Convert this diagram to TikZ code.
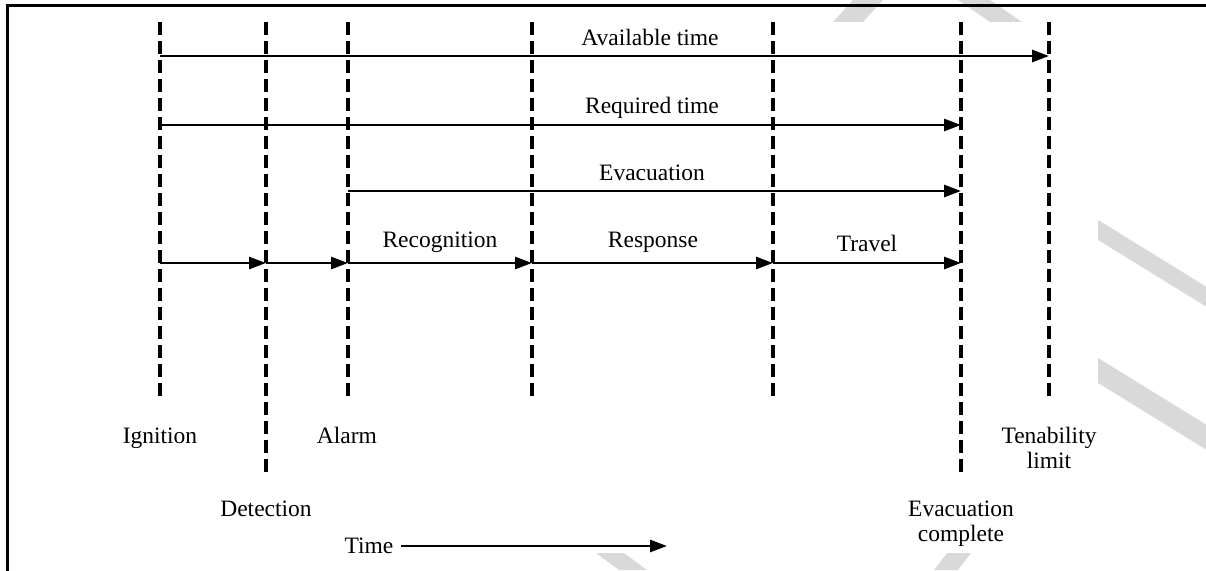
\documentclass[tikz,border=0pt]{standalone}
\usepackage{fontspec}
\setmainfont{Liberation Serif}
\usetikzlibrary{arrows.meta}
\definecolor{wmark}{HTML}{D9D9D9}
\tikzset{
  guide/.style={line width=3.2pt, dash pattern=on 13pt off 6pt},
  span/.style={line width=2.8pt, -{Triangle[length=17pt,width=12pt]}},
  lbl/.style={inner sep=0pt, anchor=base, font=\fontsize{23.5}{25}\selectfont, align=center},
  stripe/.style={fill=wmark, draw=none},
  frame/.style={line width=3pt}
}
\begin{document}
\begin{tikzpicture}[x=1pt,y=-1pt]
\useasboundingbox (0,0) rectangle (1206,570);
% watermark stripes (behind the figure)
\fill[stripe] (833,22) -- (863,22) -- (883,0) -- (853,0) -- cycle;
\fill[stripe] (958,0) -- (990,0) -- (1022,22) -- (990,22) -- cycle;
\fill[stripe] (1090,215) -- (1210,289) -- (1210,309) -- (1090,235) -- cycle;
\fill[stripe] (1090,353) -- (1210,427) -- (1210,452) -- (1090,378) -- cycle;
\fill[stripe] (596,553) -- (624,553) -- (647,570) -- (619,570) -- cycle;
\fill[stripe] (947,553) -- (971,553) -- (958,570) -- (934,570) -- cycle;
% figure area
\fill[white] (122,22) rectangle (1098,553);
% frame
\draw[frame] (7,571) -- (7,5) -- (1207,5);
% guide lines
\coordinate (ig-t) at (160,22);  \coordinate (ig-b) at (160,400);
\coordinate (de-t) at (266,22);  \coordinate (de-b) at (266,475);
\coordinate (al-t) at (348,22);  \coordinate (al-b) at (348,400);
\coordinate (rc-t) at (532,22);  \coordinate (rc-b) at (532,400);
\coordinate (rs-t) at (773,22);  \coordinate (rs-b) at (773,400);
\coordinate (ev-t) at (961,22);  \coordinate (ev-b) at (961,475);
\coordinate (tl-t) at (1049,22); \coordinate (tl-b) at (1049,400);
\foreach \g in {ig,de,al,rc,rs,ev,tl} \draw[guide] (\g-t) -- (\g-b);
% rows
\coordinate (rowA) at (0,56);
\coordinate (rowB) at (0,125);
\coordinate (rowC) at (0,191);
\coordinate (rowD) at (0,263);
\draw[span] (ig-t |- rowA) -- (tl-t |- rowA);
\draw[span] (ig-t |- rowB) -- (ev-t |- rowB);
\draw[span] (al-t |- rowC) -- (ev-t |- rowC);
\draw[span] (ig-t |- rowD) -- (de-t |- rowD);
\draw[span] (de-t |- rowD) -- (al-t |- rowD);
\draw[span] (al-t |- rowD) -- (rc-t |- rowD);
\draw[span] (rc-t |- rowD) -- (rs-t |- rowD);
\draw[span] (rs-t |- rowD) -- (ev-t |- rowD);
% span labels
\node[lbl] (lavail) at (650,45) {Available time};
\node[lbl] (lreq) at (652,113) {Required time};
\node[lbl] (levac) at (652,180) {Evacuation};
\node[lbl] (lrecog) at (440,247) {Recognition};
\node[lbl] (lresp) at (653,247) {Response};
\node[lbl] (ltravel) at (867,251) {Travel};
% event labels
\node[lbl] (lign) at (160,443) {Ignition};
\node[lbl] (lalarm) at (347,443) {Alarm};
\node[lbl] (ldet) at (266,516) {Detection};
\node[lbl] (lten) at (1049,468) {Tenability\\limit};
\node[lbl] (levc) at (961,541) {Evacuation\\complete};
% time axis
\node[lbl] (ltime) at (369,553) {Time};
\coordinate (tend) at (667,546);
\draw[span] (ltime.east |- tend) ++(7,0) coordinate (tstart) -- (tend);
\end{tikzpicture}
\end{document}
